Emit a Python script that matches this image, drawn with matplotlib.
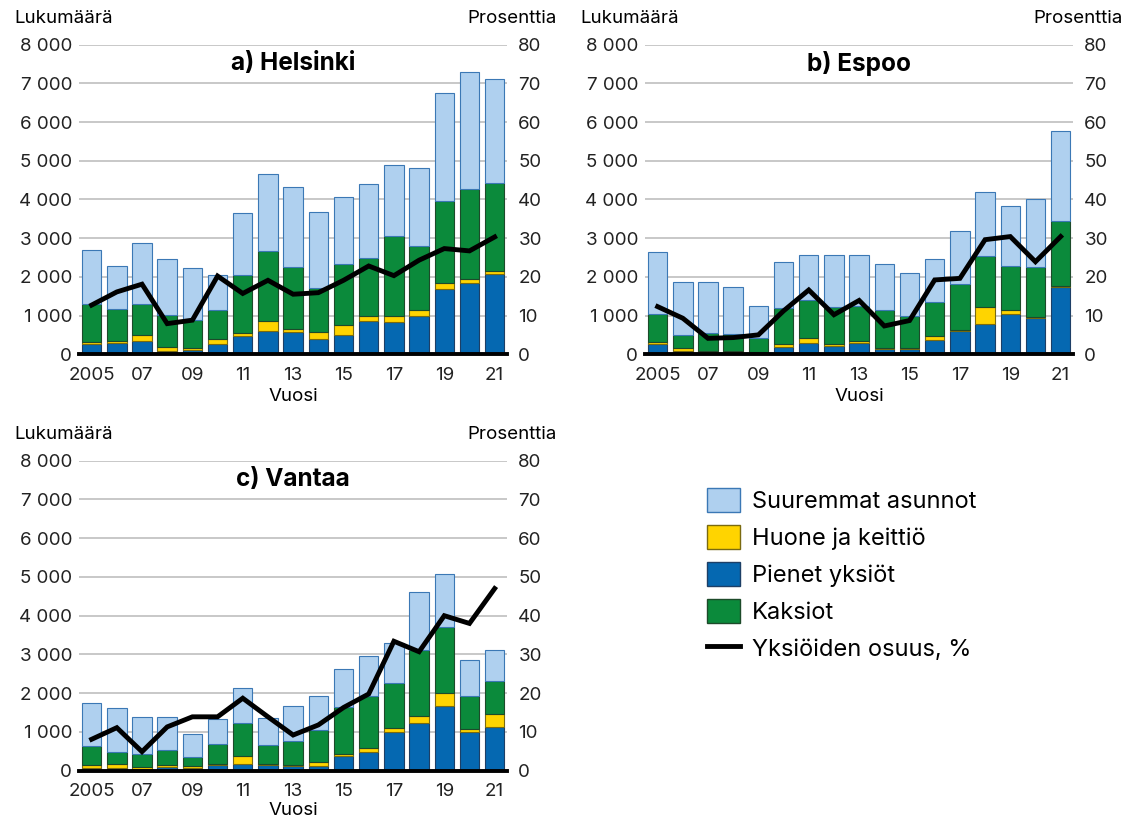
import numpy as np
import matplotlib
matplotlib.use('Agg')
import matplotlib.pyplot as plt
from matplotlib.patches import Patch
from matplotlib.lines import Line2D

plt.rcParams['font.family'] = ['Inter', 'DejaVu Sans']

years = np.arange(2005, 2022)
xtick_years = [2005, 2007, 2009, 2011, 2013, 2015, 2017, 2019, 2021]
xtick_labels = ['2005', '07', '09', '11', '13', '15', '17', '19', '21']
left_ticks = [0, 1000, 2000, 3000, 4000, 5000, 6000, 7000, 8000]
left_labels = ['0', '1 000', '2 000', '3 000', '4 000', '5 000', '6 000', '7 000', '8 000']
right_ticks = [0, 10, 20, 30, 40, 50, 60, 70, 80]

# Helsinki
hel_pienet = [260, 285, 345, 86, 100, 275, 480, 600, 570, 390, 500, 860, 845, 1000, 1690, 1835, 2070]
hel_huone = [60, 65, 155, 104, 70, 125, 80, 270, 90, 190, 250, 115, 135, 140, 140, 105, 85]
hel_kaksiot = [970, 830, 810, 835, 710, 755, 1490, 1800, 1600, 1135, 1570, 1505, 2070, 1645, 2135, 2330, 2260]
hel_suuremmat = [1400, 1110, 1570, 1425, 1360, 905, 1605, 1980, 2060, 1955, 1740, 1910, 1840, 2015, 2775, 3015, 2695]
hel_osuus = [12.7, 16.1, 18.1, 7.9, 8.8, 20.2, 15.7, 19.1, 15.5, 15.9, 19.1, 22.8, 20.3, 24.3, 27.3, 26.7, 30.3]

# Espoo
esp_pienet = [260, 95, 60, 50, 50, 190, 290, 200, 285, 145, 130, 360, 595, 790, 1030, 930, 1745]
esp_huone = [60, 60, 15, 25, 20, 70, 120, 60, 65, 25, 35, 105, 40, 430, 115, 40, 25]
esp_kaksiot = [720, 345, 465, 440, 360, 940, 980, 950, 895, 975, 825, 875, 1170, 1310, 1135, 1290, 1680]
esp_suuremmat = [1590, 1360, 1320, 1215, 815, 1190, 1180, 1360, 1310, 1175, 1115, 1110, 1385, 1650, 1540, 1755, 2310]
esp_osuus = [12.3, 9.3, 4.1, 4.3, 5.0, 11.2, 16.6, 10.2, 13.9, 7.3, 8.7, 19.2, 19.6, 29.6, 30.4, 23.9, 30.4]

# Vantaa
van_pienet = [75, 75, 50, 105, 60, 145, 180, 145, 120, 130, 370, 480, 1000, 1230, 1675, 1005, 1125]
van_huone = [65, 90, 35, 40, 70, 35, 205, 35, 35, 85, 50, 95, 90, 180, 335, 60, 330]
van_kaksiot = [490, 325, 335, 390, 230, 500, 845, 475, 620, 845, 1215, 1360, 1180, 1695, 1695, 860, 850]
van_suuremmat = [1125, 1120, 975, 860, 595, 645, 895, 710, 900, 855, 995, 1015, 1015, 1495, 1375, 920, 800]
van_osuus = [8.1, 11.1, 4.9, 11.3, 13.9, 13.9, 18.7, 13.9, 9.2, 11.8, 16.3, 19.8, 33.4, 30.7, 40.0, 38.0, 47.0]

series_names = ['Suuremmat asunnot', 'Huone ja keittiö', 'Pienet yksiöt', 'Kaksiot']
line_name = 'Yksiöiden osuus, %'

c_pienet, e_pienet = '#0568b1', '#1d3f66'
c_huone, e_huone = '#ffd400', '#7a6a10'
c_kaksiot, e_kaksiot = '#0b8a3b', '#1d4a2a'
c_suur, e_suur = '#afd0ef', '#3b78b5'

fs = 13.5

fig = plt.figure(figsize=(11.21, 8.19), dpi=100)


def panel(rect, title, pienet, huone, kaksiot, suuremmat, osuus, xlabelpad=3):
    ax = fig.add_axes(rect)
    w = 0.77
    p = np.array(pienet)
    h = np.array(huone)
    k = np.array(kaksiot)
    s = np.array(suuremmat)
    ax.bar(years, p, width=w, color=c_pienet, edgecolor=e_pienet, linewidth=0.8, zorder=3)
    ax.bar(years, h, bottom=p, width=w, color=c_huone, edgecolor=e_huone, linewidth=0.8, zorder=3)
    ax.bar(years, k, bottom=p + h, width=w, color=c_kaksiot, edgecolor=e_kaksiot, linewidth=0.8, zorder=3)
    ax.bar(years, s, bottom=p + h + k, width=w, color=c_suur, edgecolor=e_suur, linewidth=0.8, zorder=3)
    ax.set_xlim(2004.5, 2021.5)
    ax.set_ylim(0, 8000)
    ax.set_yticks(left_ticks)
    ax.set_yticklabels(left_labels)
    ax.set_xticks(xtick_years)
    ax.set_xticklabels(xtick_labels)
    ax.tick_params(axis='both', length=0, labelsize=fs, colors='#222222')
    ax.tick_params(axis='y', pad=5)
    ax.tick_params(axis='x', pad=9)
    ax.grid(axis='y', color='#c4c4c4', linewidth=1.3, zorder=0)
    for sp in ['top', 'right', 'left']:
        ax.spines[sp].set_visible(False)
    ax.spines['bottom'].set_linewidth(2.8)
    ax.spines['bottom'].set_color('black')
    ax.spines['bottom'].set_zorder(5)
    ax.set_xlabel('Vuosi', fontsize=fs, labelpad=xlabelpad)
    ax.text(0.5, 0.94, title, transform=ax.transAxes, ha='center', va='center',
            fontsize=17.5, fontweight='bold', zorder=6)
    ax.text(-0.152, 1.085, 'Lukumäärä', transform=ax.transAxes, ha='left', va='center', fontsize=fs)
    ax.text(1.115, 1.085, 'Prosenttia', transform=ax.transAxes, ha='right', va='center', fontsize=fs)

    ax2 = ax.twinx()
    ax2.plot(years, osuus, color='black', linewidth=3.5, solid_joinstyle='miter', zorder=4)
    ax2.set_ylim(0, 80)
    ax2.set_yticks(right_ticks)
    ax2.tick_params(axis='y', length=0, labelsize=fs, pad=8, colors='#222222')
    for sp in ax2.spines.values():
        sp.set_visible(False)
    return ax


panel([0.0705, 0.5675, 0.382, 0.378], 'a) Helsinki',
      hel_pienet, hel_huone, hel_kaksiot, hel_suuremmat, hel_osuus)
panel([0.5754, 0.5675, 0.382, 0.378], 'b) Espoo',
      esp_pienet, esp_huone, esp_kaksiot, esp_suuremmat, esp_osuus)
panel([0.0705, 0.059, 0.382, 0.3785], 'c) Vantaa',
      van_pienet, van_huone, van_kaksiot, van_suuremmat, van_osuus, xlabelpad=1)

handles = [
    Patch(facecolor=c_suur, edgecolor=e_suur, label=series_names[0]),
    Patch(facecolor=c_huone, edgecolor=e_huone, label=series_names[1]),
    Patch(facecolor=c_pienet, edgecolor=e_pienet, label=series_names[2]),
    Patch(facecolor=c_kaksiot, edgecolor=e_kaksiot, label=series_names[3]),
    Line2D([0], [0], color='black', linewidth=3.5, label=line_name),
]
fig.legend(handles=handles, loc='upper left', bbox_to_anchor=(0.612, 0.43),
           frameon=False, fontsize=17, handlelength=1.4, handleheight=1.2,
           handletextpad=0.5, labelspacing=0.5)

fig.savefig('out.png', dpi=100)
